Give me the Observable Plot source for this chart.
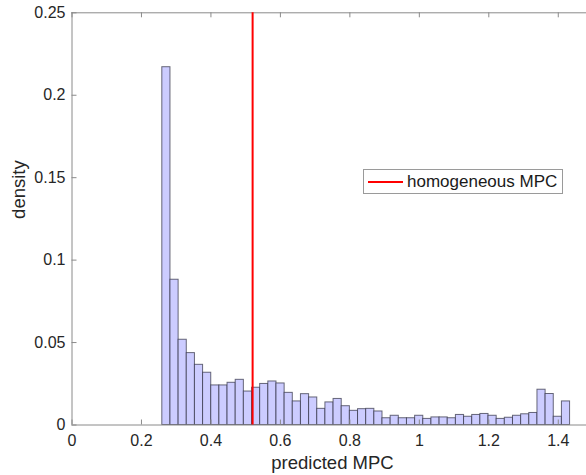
<!DOCTYPE html>
<html>
<head>
<meta charset="utf-8">
<script src="https://cdn.jsdelivr.net/npm/d3@7"></script>
<script src="https://cdn.jsdelivr.net/npm/@observablehq/plot@0.6"></script>
<style>
  html, body { margin: 0; padding: 0; background: #fff; }
  #wrap { position: relative; width: 586px; height: 475px; overflow: hidden; font-family: "Liberation Sans", Arial, Helvetica, sans-serif; }
  #legend { position: absolute; left: 363px; top: 169px; width: 198px; height: 23px; border: 1px solid #9a9a9a; background: #fff; box-sizing: content-box; }
  #legend .sw { position: absolute; left: 4px; top: 10.5px; width: 35px; height: 2px; background: #ff0000; }
  #legend .lb { position: absolute; left: 43px; top: 0; line-height: 23px; font-size: 17px; color: #1a1a1a; white-space: nowrap; }
</style>
</head>
<body>
<div id="wrap"><div id="legend"><div class="sw"></div><div class="lb"></div></div></div>
<script>
// ---- data ----
const binStart = 0.26;          // left edge of first bin
const binWidth = 0.02348;       // bin width
const densities = [
  0.217, 0.0881, 0.0517, 0.0436, 0.0365, 0.0317, 0.0240, 0.0240, 0.0256, 0.0274,
  0.0203, 0.0226, 0.0249, 0.0264, 0.0252, 0.0195, 0.0143, 0.0187, 0.0167, 0.0098,
  0.0137, 0.0158, 0.0114, 0.0086, 0.0096, 0.0098, 0.0082, 0.0041, 0.0056, 0.0041,
  0.0041, 0.0056, 0.0037, 0.0046, 0.0046, 0.0041, 0.0061, 0.0050, 0.0061, 0.0067,
  0.0056, 0.0037, 0.0044, 0.0056, 0.0065, 0.0073, 0.0214, 0.0188, 0.0050, 0.0143
];
const homogeneousMPC = [0.52];
const legendLabel = "homogeneous MPC";
const xTicks = [0, 0.2, 0.4, 0.6, 0.8, 1, 1.2, 1.4];
const xTickLabels = ["0", "0.2", "0.4", "0.6", "0.8", "1", "1.2", "1.4"];
const yTicks = [0, 0.05, 0.1, 0.15, 0.2, 0.25];
const yTickLabels = ["0", "0.05", "0.1", "0.15", "0.2", "0.25"];
const xLabel = "predicted MPC";
const yLabel = "density";

// ---- table built from the arrays ----
const bins = densities.map((d, i) => ({x1: binStart + i * binWidth, x2: binStart + (i + 1) * binWidth, d}));

const W = 586, H = 475;
const mL = 71.5, mR = -6.5, mT = 12.3, mB = 50.5;
const frameW = W - mL - mR, frameH = H - mT - mB;
const axisColor = "#8a8a8a";
const tickLen = 5;

const chart = Plot.plot({
  width: W, height: H,
  marginLeft: mL, marginRight: mR, marginTop: mT, marginBottom: mB,
  x: {domain: [0, 1.5]},
  y: {domain: [0, 0.25]},
  style: {fontFamily: '"Liberation Sans", Arial, Helvetica, sans-serif', fontSize: "16px", color: "#262626", background: "white", overflow: "visible"},
  marks: [
    Plot.rectY(bins, {x1: "x1", x2: "x2", y: "d", fill: "#ccccff", stroke: "#2e2e40", strokeOpacity: 0.7, strokeWidth: 1}),
    Plot.ruleY([0, 0.25], {stroke: axisColor, strokeWidth: 1}),
    Plot.ruleX([0], {stroke: axisColor, strokeWidth: 1}),
    Plot.tickX(xTicks, {stroke: axisColor, insetTop: frameH - tickLen}),
    Plot.tickX(xTicks, {stroke: axisColor, insetBottom: frameH - tickLen}),
    Plot.tickY(yTicks, {stroke: axisColor, insetRight: frameW - tickLen}),
    Plot.ruleX(homogeneousMPC, {stroke: "#ff0000", strokeWidth: 2}),
    Plot.axisX({ticks: xTicks, tickSize: 0, tickPadding: 10, tickFormat: (d) => xTickLabels[xTicks.indexOf(d)], label: null, fontSize: 16}),
    Plot.axisY({ticks: yTicks, tickSize: 0, tickPadding: 6.5, tickFormat: (d) => yTickLabels[yTicks.indexOf(d)], label: null, fontSize: 16}),
    Plot.text([xLabel], {text: d => d, frameAnchor: "bottom", dy: 38, lineAnchor: "middle", fontSize: 18.5, fill: "#262626"}),
    Plot.text([yLabel], {text: d => d, frameAnchor: "left", dx: -53, rotate: -90, lineAnchor: "middle", fontSize: 18.5, fill: "#262626"})
  ]
});
const wrap = document.getElementById("wrap");
wrap.insertBefore(chart, wrap.firstChild);
document.querySelector("#legend .lb").textContent = legendLabel;
</script>
</body>
</html>
